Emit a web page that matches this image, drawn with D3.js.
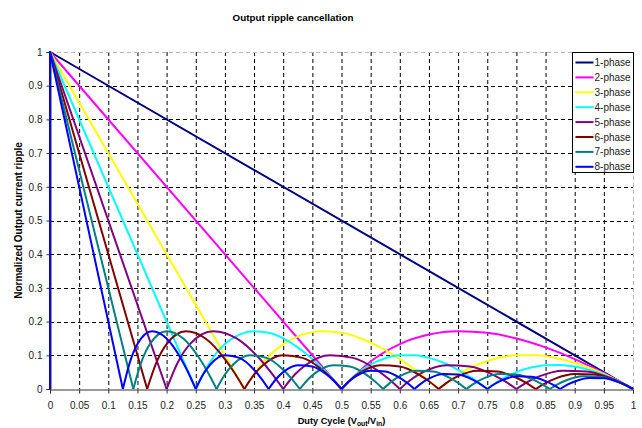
<!DOCTYPE html>
<html>
<head>
<meta charset="utf-8">
<script src="https://cdnjs.cloudflare.com/ajax/libs/d3/7.8.5/d3.min.js"></script>
<style>
body { margin: 0; background: #fff; }
text { font-family: Arial, "Liberation Sans", sans-serif; }
</style>
</head>
<body>
<div id="chart"></div>
<script>
// duty cycle / normalized ripple pairs
var phase1 = [[0,0],[0,1],[1,0]];
var phase2 = [[0,0],[0,1],[0.5,0],
    [0.55,0.0818],[0.6,0.1333],[0.65,0.1615],[0.7,0.1714],[0.75,0.1667],[0.8,0.15],[0.85,0.1235],[0.9,0.0889],[0.95,0.0474],[1,0]];
var phase3 = [[0,0],[0,1],[0.3333,0],
    [0.3667,0.0818],[0.4,0.1333],[0.4333,0.1615],[0.4667,0.1714],[0.5,0.1667],[0.5333,0.15],[0.5667,0.1235],[0.6,0.0889],[0.6333,0.0474],[0.6667,0],
    [0.7,0.0429],[0.7333,0.0727],[0.7667,0.0913],[0.8,0.1],[0.8333,0.1],[0.8667,0.0923],[0.9,0.0778],[0.9333,0.0571],[0.9667,0.031],[1,0]];
var phase4 = [[0,0],[0,1],[0.25,0],
    [0.275,0.0818],[0.3,0.1333],[0.325,0.1615],[0.35,0.1714],[0.375,0.1667],[0.4,0.15],[0.425,0.1235],[0.45,0.0889],[0.475,0.0474],[0.5,0],
    [0.525,0.0429],[0.55,0.0727],[0.575,0.0913],[0.6,0.1],[0.625,0.1],[0.65,0.0923],[0.675,0.0778],[0.7,0.0571],[0.725,0.031],[0.75,0],
    [0.775,0.029],[0.8,0.05],[0.825,0.0636],[0.85,0.0706],[0.875,0.0714],[0.9,0.0667],[0.925,0.0568],[0.95,0.0421],[0.975,0.0231],[1,0]];
var phase5 = [[0,0],[0,1],[0.2,0],
    [0.22,0.0818],[0.24,0.1333],[0.28,0.1714],[0.32,0.15],[0.36,0.0889],[0.38,0.0474],[0.4,0],
    [0.42,0.0429],[0.44,0.0727],[0.48,0.1],[0.52,0.0923],[0.56,0.0571],[0.58,0.031],[0.6,0],
    [0.62,0.029],[0.64,0.05],[0.68,0.0706],[0.72,0.0667],[0.76,0.0421],[0.78,0.0231],[0.8,0],
    [0.82,0.022],[0.84,0.0381],[0.88,0.0545],[0.92,0.0522],[0.96,0.0333],[0.98,0.0184],[1,0]];
var phase6 = [[0,0],[0,1],[0.1667,0],
    [0.1833,0.0818],[0.2,0.1333],[0.2333,0.1714],[0.2667,0.15],[0.3,0.0889],[0.3167,0.0474],[0.3333,0],
    [0.35,0.0429],[0.3667,0.0727],[0.4,0.1],[0.4333,0.0923],[0.4667,0.0571],[0.4833,0.031],[0.5,0],
    [0.5167,0.029],[0.5333,0.05],[0.5667,0.0706],[0.6,0.0667],[0.6333,0.0421],[0.65,0.0231],[0.6667,0],
    [0.6833,0.022],[0.7,0.0381],[0.7333,0.0545],[0.7667,0.0522],[0.8,0.0333],[0.8167,0.0184],[0.8333,0],
    [0.85,0.0176],[0.8667,0.0308],[0.9,0.0444],[0.9333,0.0429],[0.9667,0.0276],[0.9833,0.0153],[1,0]];
var phase7 = [[0,0],[0,1],[0.1429,0],
    [0.1571,0.0818],[0.1714,0.1333],[0.2,0.1714],[0.2286,0.15],[0.2571,0.0889],[0.2714,0.0474],[0.2857,0],
    [0.3,0.0429],[0.3143,0.0727],[0.3429,0.1],[0.3714,0.0923],[0.4,0.0571],[0.4143,0.031],[0.4286,0],
    [0.4429,0.029],[0.4571,0.05],[0.4857,0.0706],[0.5143,0.0667],[0.5429,0.0421],[0.5571,0.0231],[0.5714,0],
    [0.5857,0.022],[0.6,0.0381],[0.6286,0.0545],[0.6571,0.0522],[0.6857,0.0333],[0.7,0.0184],[0.7143,0],
    [0.7286,0.0176],[0.7429,0.0308],[0.7714,0.0444],[0.8,0.0429],[0.8286,0.0276],[0.8429,0.0153],[0.8571,0],
    [0.8714,0.0148],[0.8857,0.0258],[0.9143,0.0375],[0.9429,0.0364],[0.9714,0.0235],[0.9857,0.013],[1,0]];
var phase8 = [[0,0],[0,1],[0.125,0],
    [0.1375,0.0818],[0.15,0.1333],[0.175,0.1714],[0.2,0.15],[0.225,0.0889],[0.2375,0.0474],[0.25,0],
    [0.2625,0.0429],[0.275,0.0727],[0.3,0.1],[0.325,0.0923],[0.35,0.0571],[0.3625,0.031],[0.375,0],
    [0.3875,0.029],[0.4,0.05],[0.425,0.0706],[0.45,0.0667],[0.475,0.0421],[0.4875,0.0231],[0.5,0],
    [0.5125,0.022],[0.525,0.0381],[0.55,0.0545],[0.575,0.0522],[0.6,0.0333],[0.6125,0.0184],[0.625,0],
    [0.6375,0.0176],[0.65,0.0308],[0.675,0.0444],[0.7,0.0429],[0.725,0.0276],[0.7375,0.0153],[0.75,0],
    [0.7625,0.0148],[0.775,0.0258],[0.8,0.0375],[0.825,0.0364],[0.85,0.0235],[0.8625,0.013],[0.875,0],
    [0.8875,0.0127],[0.9,0.0222],[0.925,0.0324],[0.95,0.0316],[0.975,0.0205],[0.9875,0.0114],[1,0]];

var seriesNames = ["1-phase","2-phase","3-phase","4-phase","5-phase","6-phase","7-phase","8-phase"];
var seriesData = [phase1, phase2, phase3, phase4, phase5, phase6, phase7, phase8];
var colors = ["#000080","#ff00ff","#ffff00","#00ffff","#800080","#800000","#008080","#0000ff"];

var xTicks = d3.range(0, 21).map(function(i) { return i / 20; });
var yTicks = d3.range(0, 11).map(function(i) { return i / 10; });

var width = 642, height = 428,
    margin = { top: 52, right: 9, bottom: 39, left: 50 };

var x = d3.scaleLinear().domain([0, 1]).range([margin.left, width - margin.right]);
var y = d3.scaleLinear().domain([0, 1]).range([height - margin.bottom, margin.top]);

var svg = d3.select("#chart").append("svg")
    .attr("width", width)
    .attr("height", height);

// title
svg.append("text")
    .attr("x", 293)
    .attr("y", 20.5)
    .attr("text-anchor", "middle")
    .style("font-size", "9.8px")
    .style("font-weight", "bold")
    .text("Output ripple cancellation");

// grid
svg.append("g").selectAll("line")
    .data(xTicks.slice(1, -1))
    .enter().append("line")
    .attr("x1", function(d) { return x(d) + 0.5; })
    .attr("x2", function(d) { return x(d) + 0.5; })
    .attr("y1", y(1)).attr("y2", y(0))
    .attr("stroke", "#000").attr("stroke-dasharray", "4,3");

svg.append("g").selectAll("line")
    .data(yTicks.slice(1, -1))
    .enter().append("line")
    .attr("y1", function(d) { return Math.round(y(d)) + 0.5; })
    .attr("y2", function(d) { return Math.round(y(d)) + 0.5; })
    .attr("x1", x(0)).attr("x2", x(1))
    .attr("stroke", "#000").attr("stroke-dasharray", "4,3");

// light top / right border
svg.append("path")
    .attr("d", "M" + x(0) + "," + (Math.round(y(1)) + 0.5) + "H" + (x(1) + 0.5) + "V" + y(0))
    .attr("fill", "none")
    .attr("stroke", "#bbb")
    .attr("stroke-dasharray", "4,3");

// axes
var xAxis = d3.axisBottom(x).tickValues(xTicks).tickSize(4).tickPadding(8)
    .tickFormat(function(d) { return String(+d.toFixed(2)); });
var gx = svg.append("g")
    .attr("transform", "translate(0," + (Math.round(y(0)) + 0.5) + ")")
    .call(xAxis);

var yAxis = d3.axisLeft(y).tickValues(yTicks).tickSize(4).tickPadding(4)
    .tickFormat(function(d) { return String(+d.toFixed(1)); });
var gy = svg.append("g")
    .attr("transform", "translate(" + (x(0) + 0.5) + ",0)")
    .call(yAxis);

[gx, gy].forEach(function(g) {
    g.select(".domain").attr("stroke", "#333");
    g.selectAll(".tick line").attr("stroke", "#333");
    g.selectAll(".tick text")
        .attr("fill", "#222")
        .style("font-size", "10px")
        .style("font-family", "Arial, 'Liberation Sans', sans-serif");
});

// series
var lineLinear = d3.line()
    .x(function(d) { return x(d[0]); })
    .y(function(d) { return y(d[1]); });
var lineArc = d3.line()
    .curve(d3.curveMonotoneX)
    .x(function(d) { return x(d[0]); })
    .y(function(d) { return y(d[1]); });

// split each series at its zero points so the cusps stay sharp
function splitArcs(points) {
    var segs = [], cur = [points[0]];
    for (var k = 1; k < points.length; k++) {
        cur.push(points[k]);
        if (points[k][1] === 0) {
            segs.push(cur);
            cur = [points[k]];
        }
    }
    if (cur.length > 1) segs.push(cur);
    return segs;
}

var plot = svg.append("g");
seriesData.forEach(function(points, si) {
    var segs = splitArcs(points);
    plot.append("g").selectAll("path")
        .data(segs)
        .enter().append("path")
        .attr("d", function(seg, i) { return i === 0 ? lineLinear(seg) : lineArc(seg); })
        .attr("fill", "none")
        .attr("stroke", colors[si])
        .attr("stroke-width", 2)
        .attr("stroke-linejoin", "round");
});

// axis titles
svg.append("text")
    .attr("transform", "translate(22," + ((y(0) + y(1)) / 2) + ") rotate(-90)")
    .attr("text-anchor", "middle")
    .style("font-size", "10px")
    .style("font-weight", "bold")
    .text("Normalized Output current ripple");

var xl = svg.append("text")
    .attr("x", (x(0) + x(1)) / 2)
    .attr("y", 424)
    .attr("text-anchor", "middle")
    .style("font-size", "9.2px")
    .style("font-weight", "bold");
xl.append("tspan").text("Duty Cycle (V");
xl.append("tspan").attr("dy", 2).style("font-size", "6.8px").text("out");
xl.append("tspan").attr("dy", -2).text("/V");
xl.append("tspan").attr("dy", 2).style("font-size", "6.8px").text("in");
xl.append("tspan").attr("dy", -2).text(")");

// legend
var legend = svg.append("g").attr("transform", "translate(572.5,52.5)");
legend.append("rect")
    .attr("width", 61).attr("height", 120)
    .attr("fill", "#fff").attr("stroke", "#000");
var item = legend.selectAll("g.item")
    .data(seriesNames)
    .enter().append("g")
    .attr("class", "item")
    .attr("transform", function(d, i) { return "translate(0," + (10 + i * 14.9) + ")"; });
item.append("line")
    .attr("x1", 3).attr("x2", 21)
    .attr("stroke", function(d, i) { return colors[i]; })
    .attr("stroke-width", 2);
item.append("text")
    .attr("x", 22).attr("dy", "0.35em")
    .style("font-size", "10px")
    .attr("fill", "#222")
    .text(function(d) { return d; });
</script>
</body>
</html>
